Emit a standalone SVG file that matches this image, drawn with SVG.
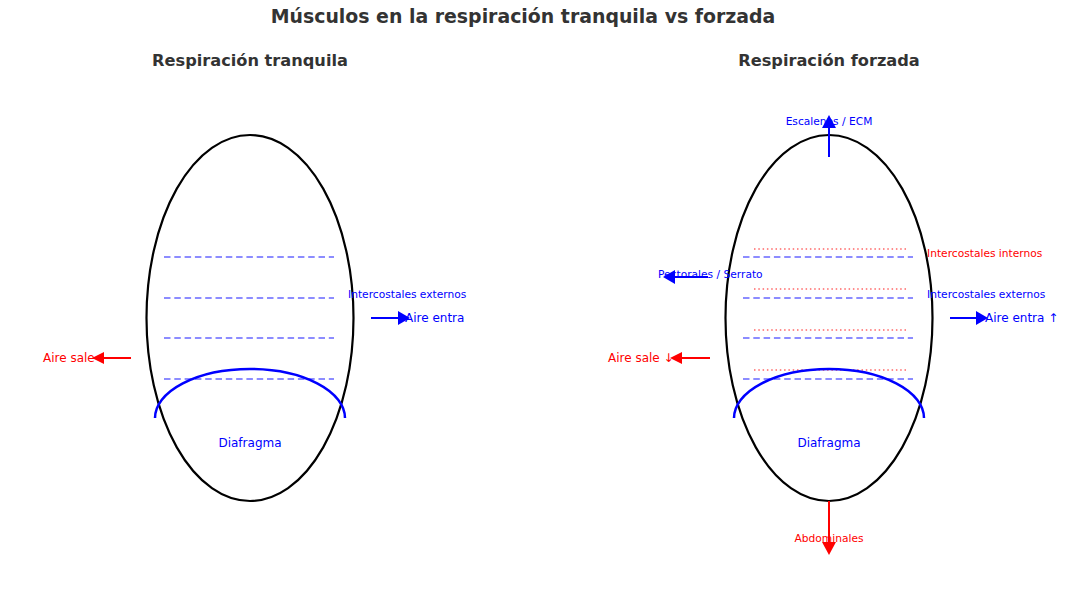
<svg xmlns="http://www.w3.org/2000/svg" width="1080" height="612" viewBox="0 0 1080 612">
<style>
text{font-family:"DejaVu Sans",Verdana,sans-serif}
.title{font-size:18.9px;font-weight:bold;fill:#333}
.sub{font-size:16.2px;font-weight:bold;fill:#333}
.sm{font-size:10.67px}
.md{font-size:12px}
.b{fill:#0000ff}
.r{fill:#ff0000}
.body{fill:none;stroke:#000;stroke-width:2.2}
.ext{stroke:#0000ff;stroke-opacity:0.6;stroke-width:1.5;stroke-dasharray:6.5 3.8}
.int{stroke:#ff0000;stroke-opacity:0.6;stroke-width:1.5;stroke-dasharray:1.5 2.8}
.dia{fill:none;stroke:#0000ff;stroke-width:2.5}
.bl{stroke:#0000ff;stroke-width:2}
.rl{stroke:#ff0000;stroke-width:2}
</style>
<rect width="1080" height="612" fill="#fff"/>
<text class="title" x="523" y="23" text-anchor="middle">Músculos en la respiración tranquila vs forzada</text>

<g id="panel-tranquila">
<text class="sub" x="250" y="66" text-anchor="middle">Respiración tranquila</text>
<g id="torax-tranquila"><ellipse class="body" cx="250" cy="318" rx="103.5" ry="183"/></g>
<g id="intercostales-ext-tranquila">
<line class="ext" x1="164" y1="257" x2="334" y2="257"/>
<line class="ext" x1="164" y1="298" x2="334" y2="298"/>
<line class="ext" x1="164" y1="338" x2="334" y2="338"/>
<line class="ext" x1="164" y1="379" x2="334" y2="379"/>
<text class="sm b" x="348" y="298">Intercostales externos</text>
</g>
<g id="diafragma-tranquila">
<path class="dia" d="M155,418 A95,49 0 0 1 345,418"/>
<text class="md b" x="250" y="447" text-anchor="middle">Diafragma</text>
</g>
<g id="aire-entra-tranquila"><text class="md b" x="405" y="322">Aire entra</text></g>
<g id="aire-sale-tranquila"><text class="md r" x="43" y="362">Aire sale</text></g>
</g>

<g id="panel-forzada">
<text class="sub" x="829" y="66" text-anchor="middle">Respiración forzada</text>
<g id="torax-forzada"><ellipse class="body" cx="829" cy="318" rx="103.5" ry="183"/></g>
<g id="intercostales-int-forzada">
<line class="int" x1="754" y1="249" x2="906" y2="249"/>
<line class="int" x1="754" y1="289" x2="906" y2="289"/>
<line class="int" x1="754" y1="330" x2="906" y2="330"/>
<line class="int" x1="754" y1="370" x2="906" y2="370"/>
<text class="sm r" x="927" y="257">Intercostales internos</text>
</g>
<g id="intercostales-ext-forzada">
<line class="ext" x1="743" y1="257" x2="913" y2="257"/>
<line class="ext" x1="743" y1="298" x2="913" y2="298"/>
<line class="ext" x1="743" y1="338" x2="913" y2="338"/>
<line class="ext" x1="743" y1="379" x2="913" y2="379"/>
<text class="sm b" x="927" y="298">Intercostales externos</text>
</g>
<g id="diafragma-forzada">
<path class="dia" d="M734,418 A95,49 0 0 1 924,418"/>
<text class="md b" x="829" y="447" text-anchor="middle">Diafragma</text>
</g>
<g id="escalenos"><text class="sm b" x="829" y="125" text-anchor="middle">Escalenos / ECM</text></g>
<g id="pectorales"><text class="sm b" x="658" y="278">Pectorales / Serrato</text></g>
<g id="abdominales"><text class="sm r" x="829" y="542" text-anchor="middle">Abdominales</text></g>
<g id="aire-entra-forzada"><text class="md b" x="985" y="322">Aire entra ↑</text></g>
<g id="aire-sale-forzada"><text class="md r" x="608" y="362">Aire sale ↓</text></g>
</g>

<g id="connectors">
<line class="bl" x1="371" y1="318" x2="399" y2="318"/><polygon class="b" points="398,311 410,318 398,325"/>
<line class="rl" x1="131" y1="358" x2="103" y2="358"/><polygon class="r" points="104,352 92,358 104,364"/>
<line class="bl" x1="950" y1="318" x2="977" y2="318"/><polygon class="b" points="976,311 988,318 976,325"/>
<line class="rl" x1="710" y1="358" x2="681" y2="358"/><polygon class="r" points="682,352 670,358 682,364"/>
<line class="bl" x1="829" y1="157" x2="829" y2="127"/><polygon class="b" points="822,128 829,115 836,128"/>
<line class="bl" x1="708" y1="277" x2="674" y2="277"/><polygon class="b" points="675,270 663,277 675,284"/>
<line class="rl" x1="829" y1="501" x2="829" y2="543"/><polygon class="r" points="822,542 829,555 836,542"/>
</g>
</svg>
